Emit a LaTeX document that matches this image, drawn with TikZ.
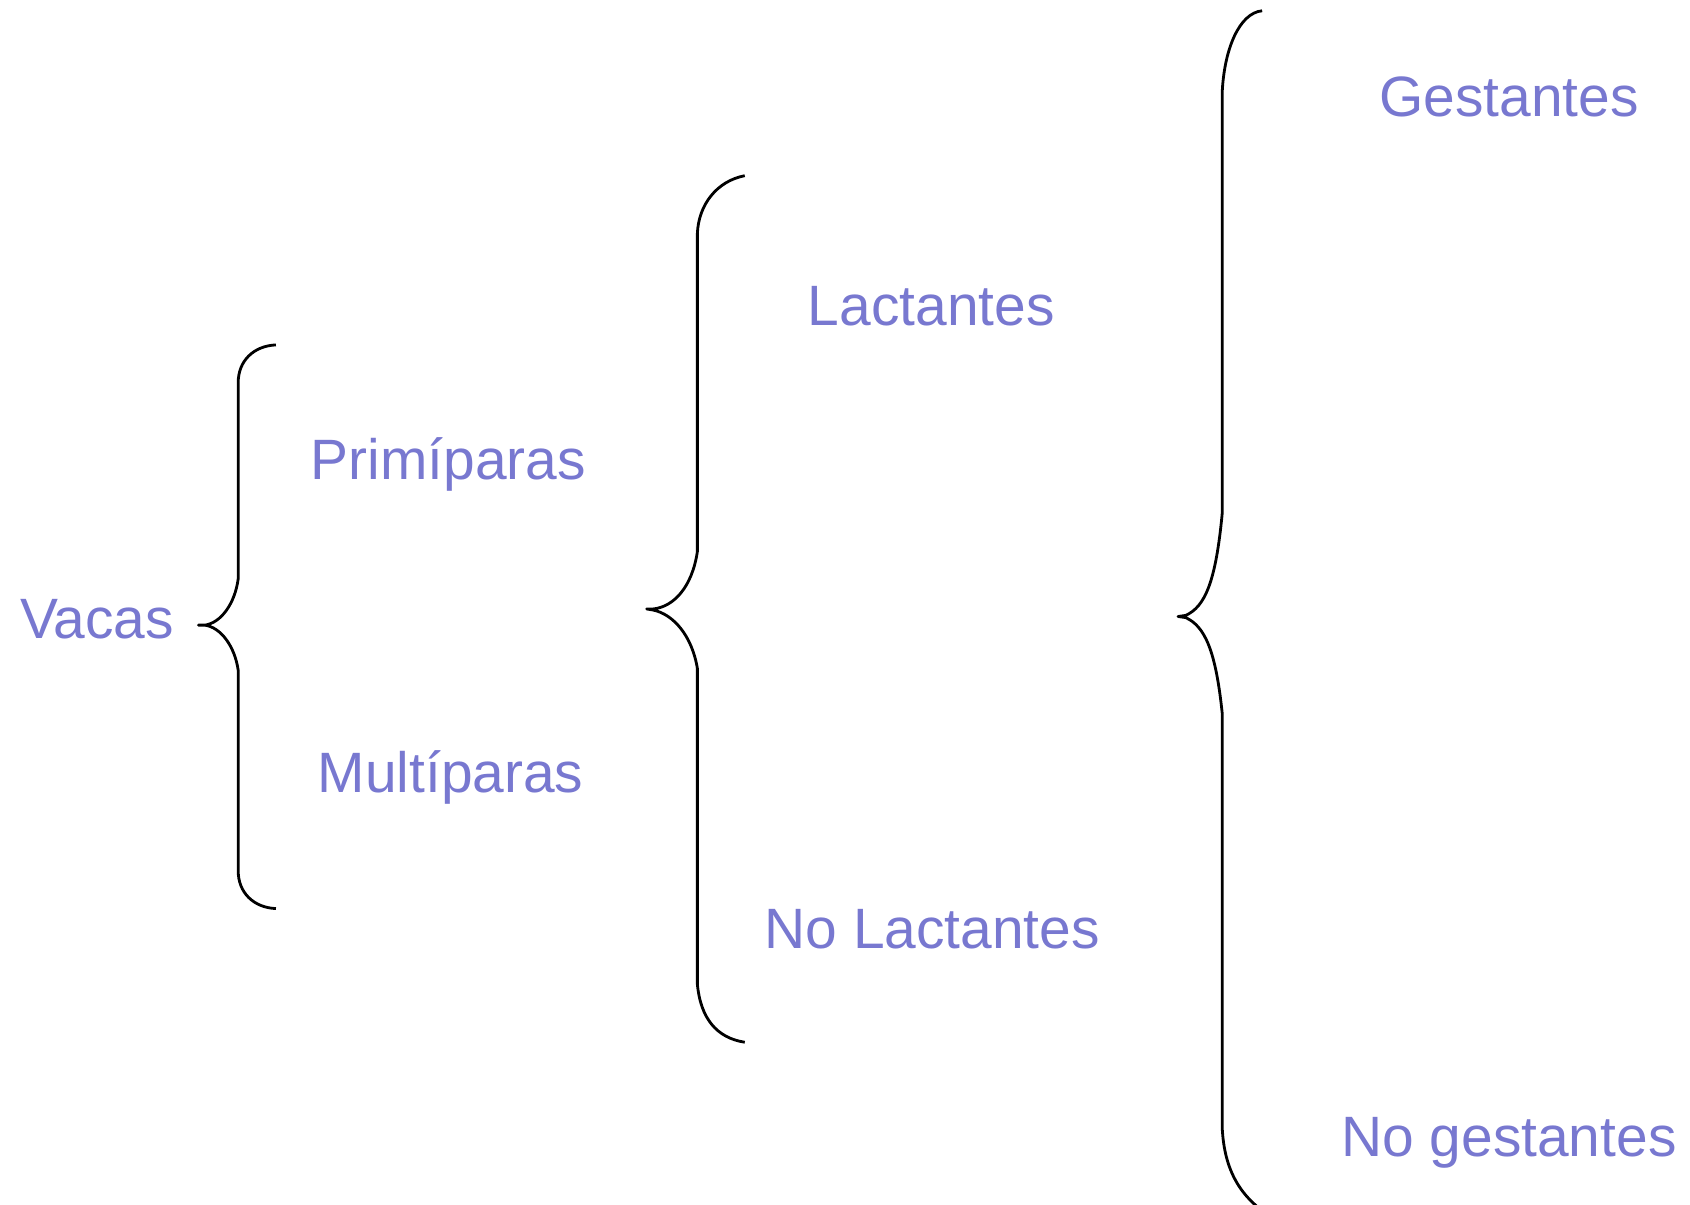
\documentclass[tikz,border=0pt]{standalone}
\usepackage{fontspec}
\setmainfont{Liberation Sans}
\definecolor{lbl}{RGB}{120,120,208}
\begin{document}
\begin{tikzpicture}[x=0.5pt,y=-0.5pt,
  lab/.style={anchor=base,inner sep=0pt,text=lbl,font=\fontsize{26.4}{30}\selectfont},
  brace/.style={draw=black,line width=1.3pt,line join=round}]
\useasboundingbox (0,0) rectangle (1568,1118);
% labels
\node[lab] (vacas) at (90,592) {Vacas};
\node[lab] (prim) at (416,445) {Primíparas};
\node[lab] (mult) at (418,735) {Multíparas};
\node[lab] (lact) at (864,302) {Lactantes};
\node[lab] (nolact) at (865,880) {No Lactantes};
\node[lab] (gest) at (1400,108) {Gestantes};
\node[lab] (nogest) at (1400,1073) {No gestantes};
% brace 1
\coordinate (b1t) at (256,320);
\coordinate (b1m) at (184,580);
\coordinate (b1b) at (256,843);
\path[brace] (b1t) .. controls (235,321) and (221,335) .. (221,355) -- (221,537)
  .. controls (218,560) and (205,578) .. (190,580) -- (b1m) -- (190,580)
  .. controls (205,582) and (218,600) .. (221,622) -- (221,808)
  .. controls (221,828) and (235,842) .. (b1b);
% brace 2
\coordinate (b2t) at (691,163);
\coordinate (b2m) at (600,565);
\coordinate (b2b) at (691,967);
\path[brace] (b2t) .. controls (665,168) and (648,190) .. (647,217) -- (647,512)
  .. controls (642,545) and (625,563) .. (606,565) -- (b2m) -- (606,566)
  .. controls (625,570) and (642,590) .. (647,620) -- (647,913)
  .. controls (650,945) and (665,963) .. (b2b);
% brace 3
\coordinate (b3t) at (1171,10);
\coordinate (b3m) at (1093,572);
\coordinate (b3b) at (1178,1128);
\path[brace] (b3t) .. controls (1150,12) and (1136,45) .. (1134,85) -- (1134,476)
  .. controls (1128,540) and (1118,563) .. (1100,571) -- (b3m) -- (1100,573)
  .. controls (1118,581) and (1128,604) .. (1134,662) -- (1134,1047)
  .. controls (1136,1085) and (1150,1110) .. (b3b);
\end{tikzpicture}
\end{document}
